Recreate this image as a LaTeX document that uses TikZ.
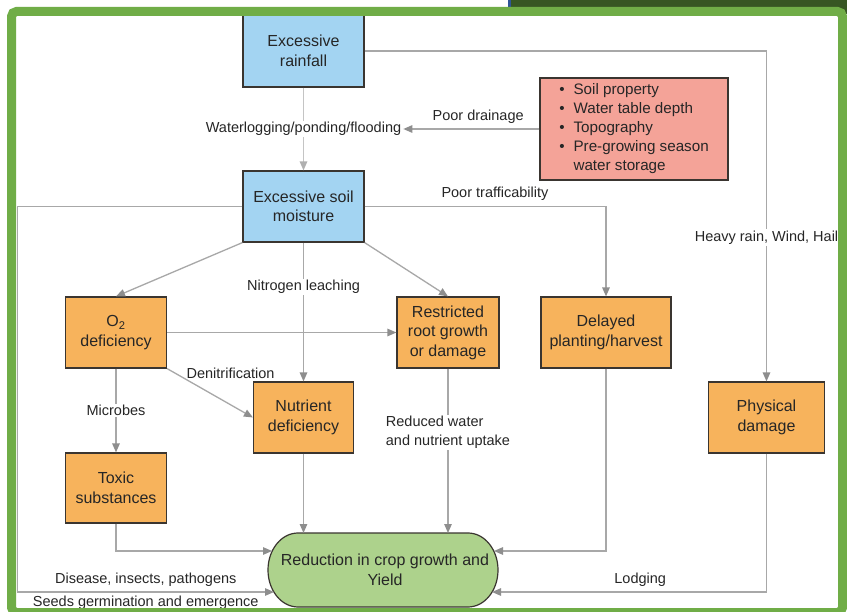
\documentclass[tikz,border=0pt]{standalone}
\usepackage{fontspec}
\setmainfont{Liberation Sans}
\usetikzlibrary{arrows.meta,calc}
\definecolor{boxblue}{HTML}{A3D4F2}
\definecolor{boxorange}{HTML}{F7B35C}
\definecolor{boxsalmon}{HTML}{F4A398}
\definecolor{goalgreen}{HTML}{ADD28C}
\definecolor{boxline}{HTML}{3A3530}
\definecolor{linegray}{HTML}{A8A8A8}
\definecolor{arrowgray}{HTML}{8E8E8E}
\definecolor{lightline}{HTML}{C4C4C4}
\definecolor{lightarrow}{HTML}{B0B0B0}
\definecolor{textdark}{HTML}{262626}
\definecolor{framegreen}{HTML}{70AD47}
\definecolor{topgreen}{HTML}{375623}
\definecolor{topblue}{HTML}{2F5597}
\newcommand\boxfont{\fontsize{16}{19.5}\selectfont}
\newcommand\lblfont{\fontsize{14.5}{19}\selectfont}
\newcommand\listfont{\fontsize{15.2}{19}\selectfont}
\begin{document}
\begin{tikzpicture}[x=1pt,y=-1pt,
  box/.style={draw=boxline, line width=1.2pt, inner sep=0pt, align=center, font=\boxfont, text=textdark},
  bluebox/.style={box, fill=boxblue},
  orbox/.style={box, fill=boxorange},
  conn/.style={draw=linegray, line width=1.3pt, -{Triangle[length=9pt,width=7.5pt,color=arrowgray]}},
  connlight/.style={draw=lightline, line width=1.3pt, -{Triangle[length=9pt,width=7.5pt,color=lightarrow]}},
  lbl/.style={fill=white, inner sep=1.5pt, font=\lblfont, text=textdark},
  lbltext/.style={inner sep=0pt, font=\lblfont, text=textdark}]
\useasboundingbox (0,0) rectangle (847,612);
\fill[white] (0,0) rectangle (847,612);
\fill[topgreen] (510,0) rectangle (847,14);
\fill[topblue] (508,0) rectangle (511,8);
% goal shape
\filldraw[fill=goalgreen, draw=boxline, line width=1.2pt]
  (298,533) -- (468,533) arc[start angle=-90, end angle=90, x radius=30, y radius=37]
  -- (298,607) arc[start angle=90, end angle=270, x radius=30, y radius=37] -- cycle;
\node[inner sep=0pt, align=center, font=\boxfont, text=textdark, minimum width=230pt, minimum height=74pt] (goal) at (385,570) {Reduction in crop growth and\\Yield};
% nodes
\node[bluebox, minimum width=121pt, minimum height=72pt] (rain) at (303.5,51) {Excessive\\rainfall};
\node[bluebox, minimum width=121pt, minimum height=71pt] (moist) at (303.5,206.5) {Excessive soil\\moisture};
\node[box, fill=boxsalmon, minimum width=188pt, minimum height=102pt] (props) at (634,129)
  {\listfont\begin{tabular}{@{}l@{\hspace{9pt}}l@{}}\textbullet & Soil property\\ \textbullet & Water table depth\\ \textbullet & Topography\\ \textbullet & Pre-growing season\\ & water storage\end{tabular}};
\node[orbox, minimum width=101pt, minimum height=71pt] (o2) at (116,332.5) {O\textsubscript{2}\\deficiency};
\node[orbox, minimum width=102pt, minimum height=71pt] (restr) at (448,332.5) {Restricted\\root growth\\or damage};
\node[orbox, minimum width=130pt, minimum height=71pt] (del) at (606,332.5) {Delayed\\planting/harvest};
\node[orbox, minimum width=100pt, minimum height=71pt] (nutr) at (303.5,417.5) {Nutrient\\deficiency};
\node[orbox, minimum width=101pt, minimum height=70pt] (toxic) at (116,488) {Toxic\\substances};
\node[orbox, minimum width=116pt, minimum height=71pt] (phys) at (766.5,417.5) {Physical\\damage};
% coordinates
\coordinate (rc) at (766.5,51);
\coordinate (lc1) at (17.5,206.5);
\coordinate (lc2) at (17.5,592);
\coordinate (g1) at (272,551);
\coordinate (g2) at (274,592);
\coordinate (g3) at (494,551);
\coordinate (g4) at (492,592);
\coordinate (gt1) at (303.5,533);
\coordinate (gt2) at (448,533);
% connectors
\draw[connlight] (rain) -- node[lbl] (wl) {Waterlogging/ponding/flooding} (moist);
\draw[conn] (props.west |- wl.east) -- node[lbltext, pos=0.45, above=5pt] {Poor drainage} (wl.east);
\draw[conn] (rain.east |- rc) -- (rc) -- node[lbl, pos=0.565] {Heavy rain, Wind, Hail} (phys.north);
\draw[conn] (moist.east) -| node[lbltext, pos=0.27, above=5pt] {Poor trafficability} (del.north);
\draw[conn] (moist.west) -- (lc1) -- (lc2) -- node[lbltext, pos=0.5, above=5pt] {Disease, insects, pathogens} node[lbltext, pos=0.5, below=3pt] {Seeds germination and emergence} (g2);
\draw[conn] (moist.south west) -- (o2.north);
\draw[conn] (moist) -- node[lbl, pos=0.32] {Nitrogen leaching} (nutr);
\draw[conn] (moist.south east) -- (restr.north);
\draw[conn] (o2) -- (restr);
\draw[conn] (o2.south east) -- node[lbltext, pos=0.22, anchor=south west] {Denitrification} (nutr.west);
\draw[conn] (o2) -- node[lbl] {Microbes} (toxic);
\draw[conn] (toxic.south) |- (g1);
\draw[conn] (nutr) -- (gt1);
\draw[conn] (restr) -- node[lbl, pos=0.39, align=left] {Reduced water\\and nutrient uptake} (gt2);
\draw[conn] (del.south) |- (g3);
\draw[conn] (phys.south) |- node[lbltext, pos=0.73, above=5pt] {Lodging} (g4);
% frame
\draw[framegreen, line width=9pt, rounded corners=5pt] (11.5,11.5) rectangle (842.5,612.5);
\end{tikzpicture}
\end{document}
